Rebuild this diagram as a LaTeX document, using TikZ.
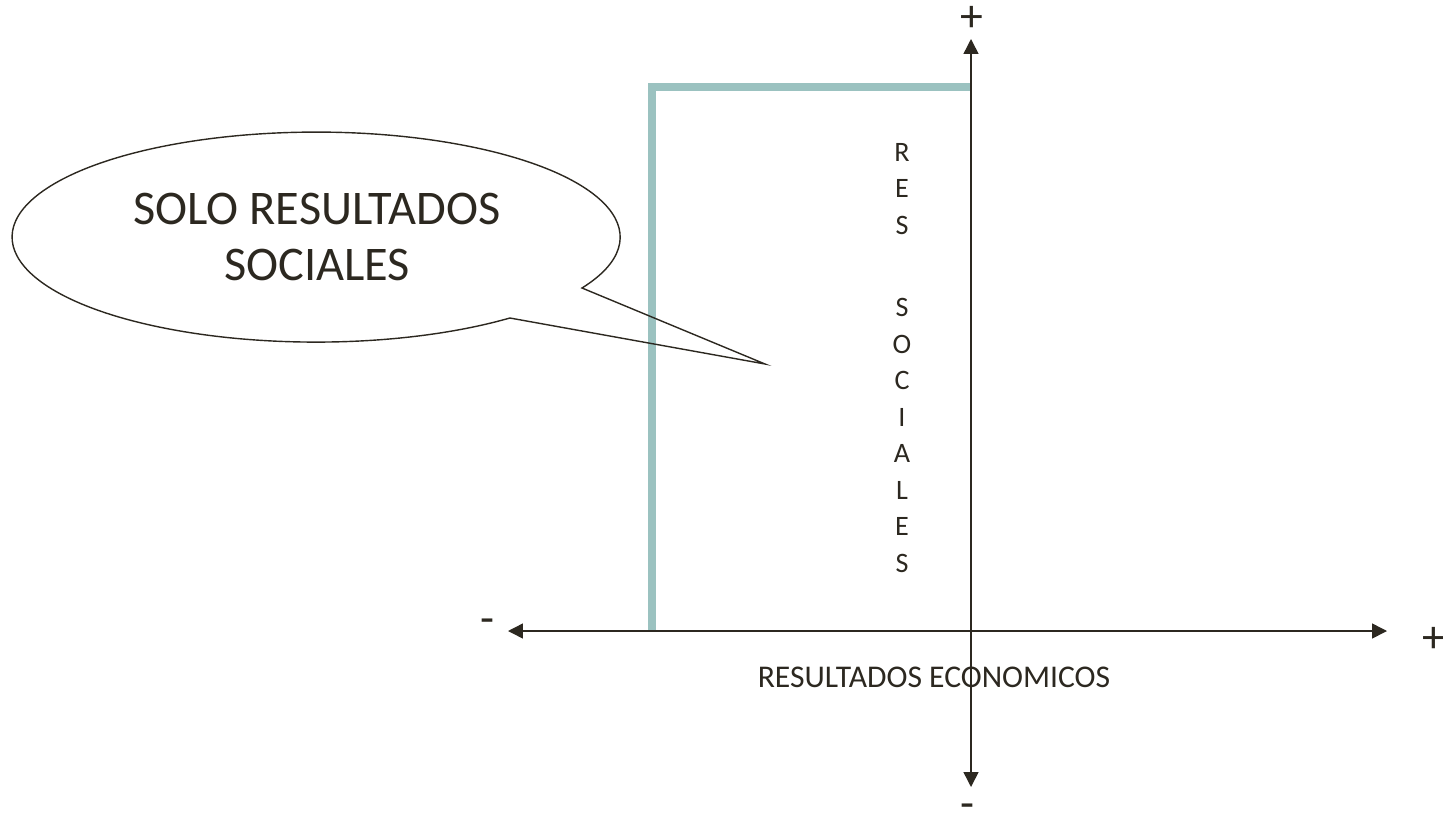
\documentclass[tikz,border=0pt]{standalone}
\usepackage{fontspec}
\setmainfont{Carlito}
\usepackage{tikz}
\usetikzlibrary{arrows.meta,positioning}
\definecolor{ink}{RGB}{44,40,32}
\definecolor{teal1}{RGB}{155,194,192}
\tikzset{
  axis/.style={ink,line width=0.85pt,{Triangle[length=8.5pt,width=8.5pt]}-{Triangle[length=8.5pt,width=8.5pt]}},
  band/.style={teal1,line width=4pt},
  callout/.style={ink,line width=0.8pt,line join=miter},
  sign/.style={ink,font=\fontsize{26}{31}\selectfont,inner sep=0pt},
  lbl/.style={ink,font=\fontsize{16}{20.8}\selectfont,inner sep=0pt}
}
\begin{document}
\begin{tikzpicture}[x=0.02cm,y=-0.02cm]
\useasboundingbox (0,0) rectangle (1443,822);
% axis ends
\coordinate (O) at (971,631);
\coordinate (L) at (508,631);
\coordinate (R) at (1387,631);
\coordinate (T) at (971,39);
\coordinate (B) at (971,787);
% teal band
\coordinate (P) at (652,631);
\coordinate (Q) at (652,87);
\coordinate (S) at (971,87);
\draw[band] (P) -- (Q) -- (S);
% axes
\draw[axis] (L) -- (R);
\draw[axis] (B) -- (T);
\node[sign] (pT) at (972,19) {+};
\node[sign] (mB) at (967,811) {-};
\node[sign] (mL) at (487,626) {-};
\node[sign] (pR) at (1434,640) {+};
\node[lbl,font=\fontsize{18}{22}\selectfont] (eco) at (934,677) {RESULTADOS ECONOMICOS};
\node[lbl,anchor=north,align=center] (soc) at (902,143)
  {R\\E\\S\\[26pt]S\\O\\C\\I\\A\\L\\E\\S};
% callout
\coordinate (tip) at (765,364);
\draw[callout] (582,288) arc[start angle=29,end angle=-309.6,x radius=304,y radius=105] -- (tip) -- cycle;
\node[ink,align=center,font=\fontsize{27.5}{32}\selectfont,inner sep=0pt] (txt) at (317,237)
  {SOLO RESULTADOS\\SOCIALES};
\end{tikzpicture}
\end{document}
